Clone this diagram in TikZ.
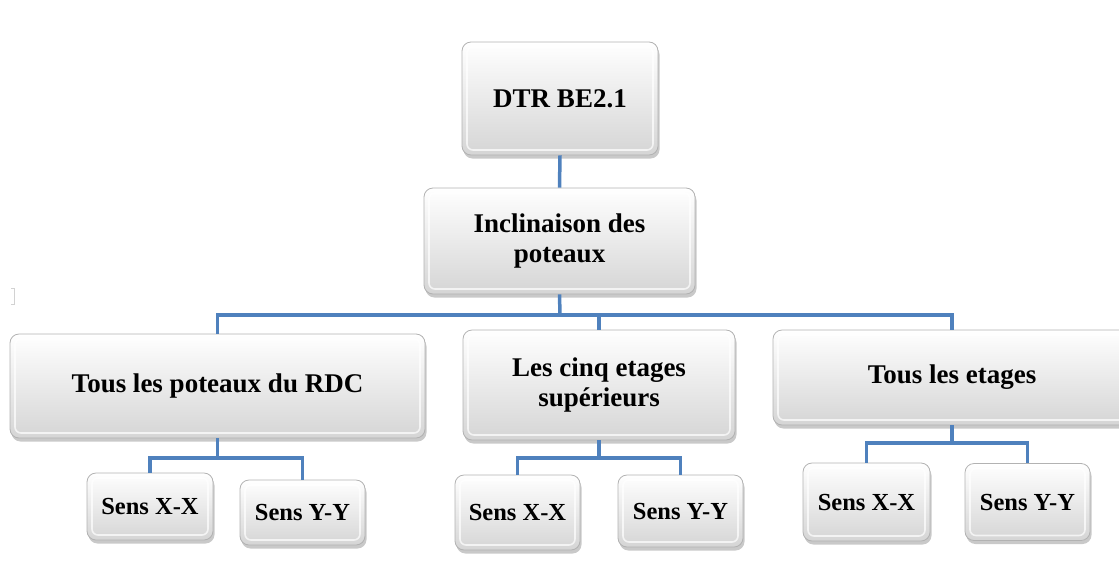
\documentclass[tikz,border=0pt]{standalone}
\usepackage{fontspec}
\setmainfont{Liberation Serif}
\usetikzlibrary{shadows}
\definecolor{linkblue}{RGB}{79,129,189}
\tikzset{
  box/.style={rectangle, rounded corners=9pt, draw=gray!60, line width=0.8pt,
    top color=white, bottom color=gray!33, align=center, inner sep=0pt,
    drop shadow={shadow xshift=1.5pt, shadow yshift=-3.5pt, opacity=0.5, fill=gray!85},
    path picture={\draw[white, line width=1.6pt, rounded corners=6pt, opacity=0.7]
      ([shift={(5pt,-5pt)}]path picture bounding box.north west) rectangle
      ([shift={(-5pt,5pt)}]path picture bounding box.south east);}},
  bigbox/.style={box, font=\fontsize{27}{30}\selectfont\bfseries},
  smallbox/.style={box, font=\fontsize{24.5}{28}\selectfont\bfseries},
  link/.style={draw=linkblue, line width=3.5pt}
}
\begin{document}
\begin{tikzpicture}[x=1pt,y=-1pt]
\useasboundingbox (0,0) rectangle (1119,579);
\clip (0,0) rectangle (1119,579);
% light bracket mark at left
\draw[gray!35, line width=1pt] (11,288) -- (14,288) -- (14,304) -- (11,304);

\node[bigbox, minimum width=196pt, minimum height=113pt] (dtr) at (560,98.5) {DTR BE2.1};
\node[bigbox, minimum width=271pt, minimum height=106pt] (incl) at (559.5,241) {Inclinaison des\\poteaux};
\node[bigbox, minimum width=415pt, minimum height=104pt] (rdc) at (217.5,386) {Tous les poteaux du RDC};
\node[bigbox, minimum width=272pt, minimum height=110pt] (sup) at (599,385) {Les cinq etages\\supérieurs};
\node[bigbox, minimum width=358pt, minimum height=95pt] (tous) at (952,377.5) {Tous les etages};

\node[smallbox, minimum width=126pt, minimum height=67pt] (rx) at (150,506.5) {Sens X-X};
\node[smallbox, minimum width=125pt, minimum height=65pt] (ry) at (302.5,512.5) {Sens Y-Y};
\node[smallbox, minimum width=125pt, minimum height=75pt] (mx) at (517.5,512.5) {Sens X-X};
\node[smallbox, minimum width=125pt, minimum height=72pt] (my) at (680.5,511) {Sens Y-Y};
\node[smallbox, minimum width=127pt, minimum height=78pt] (tx) at (866.5,502) {Sens X-X};
\node[smallbox, minimum width=125pt, minimum height=77pt] (ty) at (1027.5,502) {Sens Y-Y};

\coordinate (bus1) at (560,315);
\coordinate (bus2) at (214,458);
\coordinate (bus3) at (600,458);
\coordinate (bus4) at (952,443);

\draw[link] (dtr.south) -- (incl.north);
\draw[link] (incl.south) -- (bus1);
\draw[link] (rdc.north) |- (bus1) -| (tous.north);
\draw[link] (sup.north) -- (sup.north |- bus1);

\draw[link] (rdc.south) -- (rdc.south |- bus2);
\draw[link] (rx.north) |- (bus2) -| (ry.north);

\draw[link] (sup.south) -- (sup.south |- bus3);
\draw[link] (mx.north) |- (bus3) -| (my.north);

\draw[link] (tous.south) -- (bus4);
\draw[link] (tx.north) |- (bus4) -| (ty.north);
\end{tikzpicture}
\end{document}
